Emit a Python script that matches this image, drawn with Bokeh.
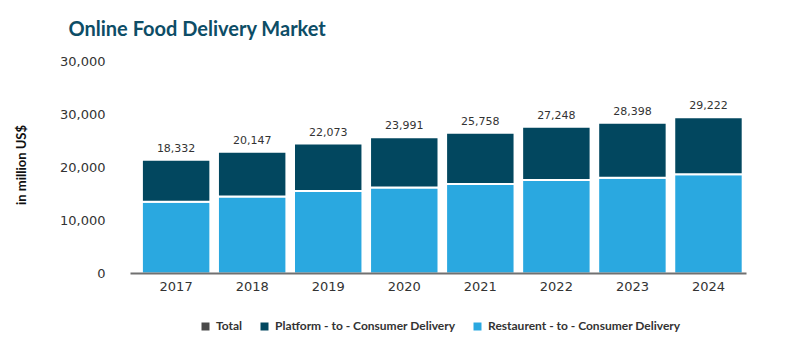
from bokeh.plotting import figure
from bokeh.layouts import column
from bokeh.models import (ColumnDataSource, Range1d, FixedTicker, LabelSet,
                          Legend, LegendItem)
from bokeh.core.properties import value
from bokeh.embed import file_html
from bokeh.resources import INLINE

# ---- data ----
years = ["2017", "2018", "2019", "2020", "2021", "2022", "2023", "2024"]
restaurant = [13550, 14550, 15600, 16250, 16900, 17650, 18100, 18750]
platform = [7950, 8450, 8950, 9500, 9700, 10100, 10400, 10750]
totals = [18332, 20147, 22073, 23991, 25758, 27248, 28398, 29222]
y_ticks = [0, 10000, 20000, 30000, 40000]
y_tick_labels = ["0", "10,000", "20,000", "30,000", "30,000"]
series_names = ["Total", "Platform - to - Consumer Delivery",
                "Restaurent - to - Consumer Delivery"]

LIGHT = "#2aa8e0"
DARK = "#02475f"
GREY = "#4a4a4a"
TEXT = "#333333"

xs = list(range(len(years)))
stack_top = [r + q for r, q in zip(restaurant, platform)]
src = ColumnDataSource(dict(
    x=xs, restaurant=restaurant, platform=platform, top=stack_top,
    zero=[0] * len(xs),
    label=[f"{t:,}" for t in totals],
))

# ---------------- main chart ----------------
p = figure(width=800, height=300, output_backend="svg", toolbar_location=None,
           x_range=Range1d(-0.6, 7.5), y_range=Range1d(0, 41000),
           min_border_left=130, min_border_right=54,
           min_border_top=56, min_border_bottom=27)

p.title.text = "Online Food Delivery Market"
p.title.text_font = "Lato"
p.title.text_font_size = "20px"
p.title.text_font_style = "bold"
p.title.text_color = "#0d4d66"
p.title.offset = -62
p.title.standoff = 30
p.title.vertical_align = "top"

r_light = p.vbar(x="x", bottom=0, top="restaurant", width=0.9, source=src,
                 fill_color=LIGHT, line_color="white", line_width=2)
r_dark = p.vbar(x="x", bottom="restaurant", top="top", width=0.9, source=src,
                fill_color=DARK, line_color="white", line_width=2)

labels = LabelSet(x="x", y="top", text="label", source=src, y_offset=12,
                  text_align="center", text_baseline="middle",
                  text_font=value("DejaVu Sans"), text_font_size=value("11px"),
                  text_color=TEXT)
p.add_layout(labels)

p.xaxis.ticker = FixedTicker(ticks=xs)
p.xaxis.major_label_overrides = {i: y for i, y in enumerate(years)}
p.xaxis.axis_line_color = "#707070"
p.xaxis.axis_line_width = 2
p.xaxis.major_tick_line_color = None
p.xaxis.minor_tick_line_color = None
p.xaxis.major_label_standoff = 2
p.xaxis.major_label_text_font = "DejaVu Sans"
p.xaxis.major_label_text_font_size = "13px"
p.xaxis.major_label_text_color = TEXT

p.yaxis.ticker = FixedTicker(ticks=y_ticks)
p.yaxis.major_label_overrides = dict(zip(y_ticks, y_tick_labels))
p.yaxis.axis_line_color = None
p.yaxis.major_tick_line_color = None
p.yaxis.minor_tick_line_color = None
p.yaxis.major_label_standoff = 19
p.yaxis.major_label_text_font = "DejaVu Sans"
p.yaxis.major_label_text_font_size = "13px"
p.yaxis.major_label_text_color = TEXT
p.yaxis.axis_label = "in million US$"
p.yaxis.axis_label_text_font = "Lato"
p.yaxis.axis_label_text_font_size = "13px"
p.yaxis.axis_label_text_font_style = "bold"
p.yaxis.axis_label_text_color = "#111111"
p.yaxis.axis_label_standoff = 28

p.xgrid.visible = False
p.ygrid.visible = False
p.outline_line_color = None

# ---------------- legend strip ----------------
lg = figure(width=800, height=50, output_backend="svg", toolbar_location=None,
            x_range=Range1d(-0.6, 7.5), y_range=Range1d(0, 1),
            x_axis_location=None, y_axis_location=None, min_border=0)
lg.xgrid.visible = False
lg.ygrid.visible = False
lg.outline_line_color = None
# zero-height proxies, shown only through the legend
l_total = lg.vbar(x="x", bottom="zero", top="zero", width=0.9, source=src,
                  fill_color=GREY, line_color=None)
l_dark = lg.vbar(x="x", bottom="zero", top="zero", width=0.9, source=src,
                 fill_color=DARK, line_color=None)
l_light = lg.vbar(x="x", bottom="zero", top="zero", width=0.9, source=src,
                  fill_color=LIGHT, line_color=None)

legend = Legend(items=[
    LegendItem(label=series_names[0], renderers=[l_total]),
    LegendItem(label=series_names[1], renderers=[l_dark]),
    LegendItem(label=series_names[2], renderers=[l_light]),
], orientation="horizontal", location=(70, 17))
legend.label_text_font = "Lato"
legend.label_text_font_size = "12px"
legend.label_text_font_style = "bold"
legend.label_text_color = TEXT
legend.glyph_width = 10
legend.glyph_height = 10
legend.spacing = 17
legend.label_standoff = 6
legend.padding = 0
legend.margin = 0
legend.border_line_color = None
legend.background_fill_alpha = 0
lg.add_layout(legend, "center")

layout = column(p, lg, spacing=0)
open("out.html", "w").write(file_html(layout, INLINE))
